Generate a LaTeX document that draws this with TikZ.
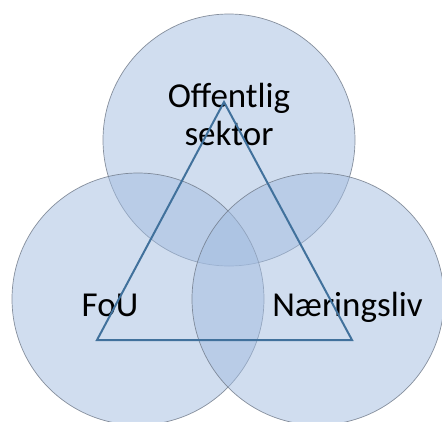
\documentclass[tikz,border=0pt]{standalone}
\usepackage{fontspec}
\setmainfont{Carlito}
\definecolor{circfill}{RGB}{163,189,225}
\definecolor{circline}{RGB}{110,120,135}
\definecolor{triline}{RGB}{65,113,156}
\tikzset{
  setcircle/.style={circle, inner sep=0pt, minimum size=252pt, fill=circfill, fill opacity=0.5, draw=circline, draw opacity=0.8, line width=0.7pt},
  label/.style={font=\fontsize{35}{38}\selectfont, text=black, inner sep=0pt, align=center},
  triedge/.style={draw=triline, line width=2pt, line join=miter}
}
\begin{document}
\begin{tikzpicture}[x=1pt,y=-1pt]
\useasboundingbox (0,0) rectangle (442,421);
\fill[white] (0,0) rectangle (442,421);
\node[setcircle] (ctop) at (229,140) {};
\node[setcircle] (cleft) at (138,299) {};
\node[setcircle] (cright) at (318,299) {};
\node[label, anchor=base] (loff) at (229,145) {Offentlig\\sektor};
\node[label, anchor=base] (lfou) at (110,316) {FoU};
\node[label, anchor=base] (lnar) at (347.5,316) {Næringsliv};
\coordinate (ta) at (224,102);
\coordinate (tl) at (97,340);
\coordinate (tr) at (352,340);
\draw[triedge] (ta) -- (tl) -- (tr) -- cycle;
\end{tikzpicture}
\end{document}
